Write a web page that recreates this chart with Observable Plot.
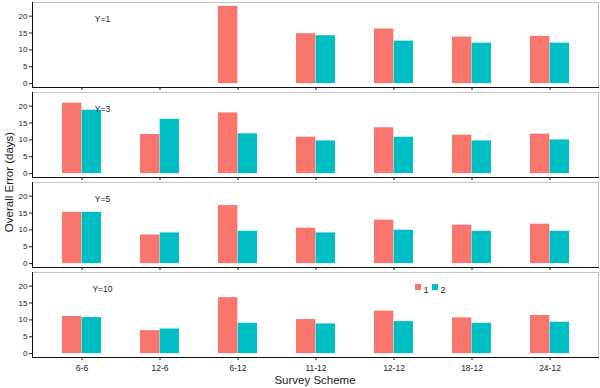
<!DOCTYPE html>
<html>
<head>
<meta charset="utf-8">
<script src="https://cdn.jsdelivr.net/npm/d3@7"></script>
<script src="https://cdn.jsdelivr.net/npm/@observablehq/plot@0.6"></script>
<style>
  body { margin: 0; background: #fff; }
  #wrap { position: relative; width: 600px; height: 388px; font-family: "Liberation Sans", Arial, sans-serif; }
  #ytitle { position: absolute; left: 9px; top: 182px; transform: translate(-50%, -50%) rotate(-90deg); white-space: nowrap; font-size: 11.5px; color: #222; }
  #xtitle { position: absolute; left: 315px; top: 380px; transform: translate(-50%, -50%); white-space: nowrap; font-size: 11.5px; color: #222; }
  .sw { position: absolute; width: 6px; height: 6px; }
  .lt { position: absolute; font-size: 9px; color: #222; line-height: 1; }
</style>
</head>
<body>
<div id="wrap">
  <div id="chart"></div>
  <div id="ytitle">Overall Error (days)</div>
  <div id="xtitle">Survey Scheme</div>
  <div id="legend"></div>
</div>
<script>
const schemes = ["6-6", "12-6", "6-12", "11-12", "12-12", "18-12", "24-12"];
const yLevels = [1, 3, 5, 10];
const groups = ["1", "2"];
const colors = ["#F8766D", "#00BFC4"];

// group 1 values per Y level (one per scheme)
const g1_Y1  = [null, null, 22.9, 14.8, 16.2, 13.8, 14.0];
const g1_Y3  = [20.9, 11.6, 18.0, 10.8, 13.6, 11.4, 11.7];
const g1_Y5  = [15.2, 8.5, 17.2, 10.5, 12.9, 11.4, 11.7];
const g1_Y10 = [11.0, 6.8, 16.6, 10.1, 12.6, 10.6, 11.3];
// group 2 values per Y level
const g2_Y1  = [null, null, null, 14.2, 12.6, 12.0, 12.0];
const g2_Y3  = [18.8, 16.1, 11.8, 9.7, 10.8, 9.7, 10.0];
const g2_Y5  = [15.2, 9.1, 9.6, 9.1, 9.9, 9.6, 9.6];
const g2_Y10 = [10.7, 7.3, 9.0, 8.8, 9.5, 9.0, 9.3];

const yTicks = [0, 5, 10, 15, 20];
const panelLabels = yLevels.map(y => ({Y: y, label: "Y=" + y}));

const g1 = [g1_Y1, g1_Y3, g1_Y5, g1_Y10];
const g2 = [g2_Y1, g2_Y3, g2_Y5, g2_Y10];
function toRows(arrs, group) {
  const rows = [];
  arrs.forEach((vals, i) => vals.forEach((v, j) => {
    if (v != null) rows.push({Y: yLevels[i], scheme: schemes[j], group, value: v});
  }));
  return rows;
}
const rows1 = toRows(g1, "1");
const rows2 = toRows(g2, "2");

const marginLeft = 32, marginRight = 2;
const plotW = 600 - marginLeft - marginRight;
const step = plotW / (schemes.length - 0.5 + 2 * 0.35);
const half = step * 0.5 / 2;

const chart = Plot.plot({
  width: 600,
  height: 388,
  marginTop: 1,
  marginBottom: 31,
  marginLeft,
  marginRight,
  style: {fontFamily: "Liberation Sans, Arial, sans-serif", color: "#222", background: "#fff"},
  fy: {domain: yLevels, paddingInner: 0.06, paddingOuter: 0, axis: null, label: null},
  x: {type: "band", domain: schemes, paddingInner: 0.5, paddingOuter: 0.35, label: null},
  y: {domain: [-1.15, 24.05], label: null},
  marks: [
    Plot.frame({stroke: "#c4c4c4"}),
    Plot.barY(rows1, {x: "scheme", y: "value", fy: "Y", fill: colors[0], insetRight: half}),
    Plot.barY(rows2, {x: "scheme", y: "value", fy: "Y", fill: colors[1], insetLeft: half}),
    Plot.frame({anchor: "bottom", stroke: "#111"}),
    Plot.frame({anchor: "left", stroke: "#111"}),
    Plot.axisY({ticks: yTicks, tickSize: 3, tickPadding: 2, fontSize: 8, label: null}),
    Plot.axisX({facetAnchor: null, tickSize: 3, tickFormat: () => "", label: null}),
    Plot.axisX({tickSize: 0, tickPadding: 7, fontSize: 8.5, label: null}),
    Plot.text(panelLabels, {fy: "Y", text: "label", frameAnchor: "top-left", dx: 70, dy: 16.5, textAnchor: "middle", lineAnchor: "middle", fontSize: 8.5, fill: "#222"})
  ]
});
document.getElementById("chart").appendChild(chart);

// legend
const legend = document.getElementById("legend");
const legendX = [415, 432];
groups.forEach((g, i) => {
  const sw = document.createElement("div");
  sw.className = "sw";
  sw.style.left = legendX[i] + "px";
  sw.style.top = "284px";
  sw.style.background = colors[i];
  legend.appendChild(sw);
  const t = document.createElement("div");
  t.className = "lt";
  t.style.left = (legendX[i] + 8.5) + "px";
  t.style.top = "286px";
  t.textContent = g;
  legend.appendChild(t);
});
</script>
</body>
</html>
